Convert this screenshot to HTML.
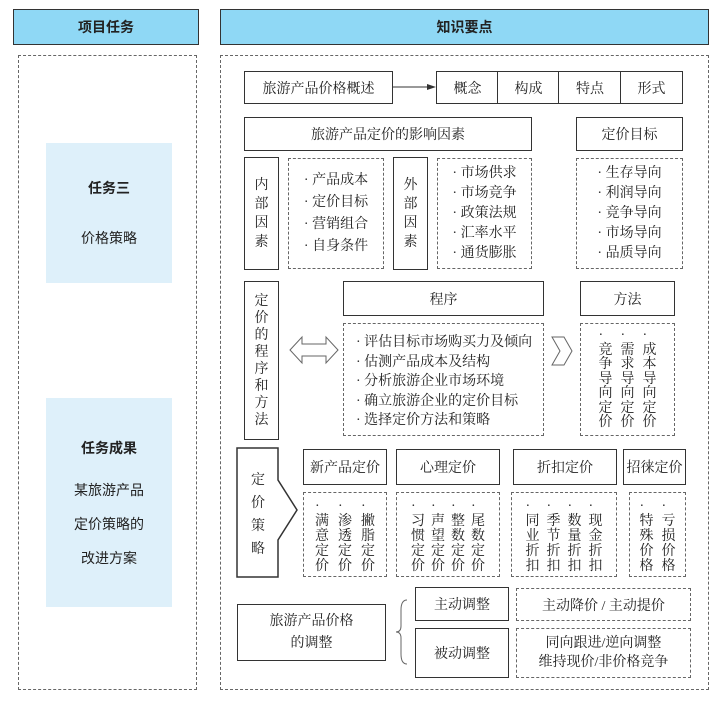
<!DOCTYPE html>
<html><head><meta charset="utf-8"><style>
body{margin:0;width:722px;height:707px;background:#fff;position:relative;font-family:"Liberation Serif","Noto Serif CJK SC","Noto Sans CJK SC",serif;color:#222;font-size:14px;overflow:hidden}
.a{position:absolute;box-sizing:border-box}
.s{border:1.5px solid #333;display:flex;align-items:center;justify-content:center;text-align:center;background:#fff}
.d{border:1px dashed #666}
.c{display:flex;align-items:center;justify-content:center;text-align:center}
.v{line-height:19px}
.l{line-height:22px}
.h{background:#8fd8f5;border:1.5px solid #333;display:flex;align-items:center;justify-content:center;font-family:"Noto Sans CJK SC",sans-serif;font-weight:bold;font-size:14px}
.cols{display:flex;justify-content:center;gap:9px;line-height:17px}
</style></head><body>
<div class="a h" style="left:13px;top:9px;width:186px;height:36px">项目任务</div>
<div class="a h" style="left:220px;top:9px;width:489px;height:36px">知识要点</div>
<div class="a d" style="left:18px;top:55px;width:179px;height:635px"></div>
<div class="a d" style="left:220px;top:55px;width:489px;height:635px"></div>
<div class="a c" style="left:46px;top:143px;width:126px;height:140px;background:#def0fa;flex-direction:column;line-height:50px;font-family:'Noto Sans CJK SC',sans-serif"><b>任务三</b><span>价格策略</span></div>
<div class="a c" style="left:46px;top:398px;width:126px;height:209px;background:#def0fa;flex-direction:column;line-height:34px;font-family:'Noto Sans CJK SC',sans-serif"><b style="margin-bottom:8px">任务成果</b><span>某旅游产品</span><span>定价策略的</span><span>改进方案</span></div>

<div class="a s" style="left:244px;top:71px;width:149px;height:33px">旅游产品价格概述</div>
<svg class="a" style="left:393px;top:80px" width="44" height="14"><line x1="0" y1="7" x2="36" y2="7" stroke="#333"/><polygon points="43,7 34,4 34,10" fill="#333"/></svg>
<div class="a s" style="left:436px;top:71px;width:63px;height:33px">概念</div>
<div class="a s" style="left:497px;top:71px;width:63px;height:33px">构成</div>
<div class="a s" style="left:558px;top:71px;width:64px;height:33px">特点</div>
<div class="a s" style="left:620px;top:71px;width:63px;height:33px">形式</div>

<div class="a s" style="left:244px;top:117px;width:288px;height:34px">旅游产品定价的影响因素</div>
<div class="a s" style="left:576px;top:117px;width:107px;height:34px">定价目标</div>
<div class="a s v" style="left:244px;top:157px;width:35px;height:113px">内<br>部<br>因<br>素</div>
<div class="a d c l" style="left:288px;top:158px;width:96px;height:111px">· 产品成本<br>· 定价目标<br>· 营销组合<br>· 自身条件</div>
<div class="a s v" style="left:393px;top:157px;width:35px;height:113px">外<br>部<br>因<br>素</div>
<div class="a d c" style="left:437px;top:158px;width:95px;height:111px;line-height:20px">· 市场供求<br>· 市场竞争<br>· 政策法规<br>· 汇率水平<br>· 通货膨胀</div>
<div class="a d c" style="left:576px;top:158px;width:107px;height:111px;line-height:20px">· 生存导向<br>· 利润导向<br>· 竞争导向<br>· 市场导向<br>· 品质导向</div>

<div class="a s" style="left:244px;top:281px;width:35px;height:159px;line-height:17px">定<br>价<br>的<br>程<br>序<br>和<br>方<br>法</div>
<svg class="a" style="left:288px;top:334px" width="52" height="32"><polygon points="2,16 14,3 14,10 38,10 38,3 50,16 38,29 38,22 14,22 14,29" fill="#fff" stroke="#666"/></svg>
<div class="a s" style="left:343px;top:281px;width:201px;height:35px">程序</div>
<div class="a d" style="left:343px;top:323px;width:201px;height:113px;padding:9px 0 0 12px;line-height:19.5px;text-align:left">· 评估目标市场购买力及倾向<br>· 估测产品成本及结构<br>· 分析旅游企业市场环境<br>· 确立旅游企业的定价目标<br>· 选择定价方法和策略</div>
<svg class="a" style="left:550px;top:334px" width="24" height="34"><polygon points="2,3 14,3 22,17 14,31 2,31 10,17" fill="#fff" stroke="#666"/></svg>
<div class="a s" style="left:580px;top:281px;width:95px;height:35px">方法</div>
<div class="a d" style="left:580px;top:323px;width:95px;height:113px;padding-top:5px"><div class="cols" style="line-height:14.5px;gap:8px">
<span>·<br>竞<br>争<br>导<br>向<br>定<br>价</span><span>·<br>需<br>求<br>导<br>向<br>定<br>价</span><span>·<br>成<br>本<br>导<br>向<br>定<br>价</span></div></div>

<svg class="a" style="left:236px;top:447px" width="66" height="132"><polygon points="1,1 42,1 42,33 61,63 42,93 42,130 1,130" fill="#fff" stroke="#333" stroke-width="1.5"/></svg>
<div class="a c" style="left:238px;top:470px;width:40px;height:90px;line-height:23px">定<br>价<br>策<br>略</div>
<div class="a s" style="left:303px;top:449px;width:84px;height:36px">新产品定价</div>
<div class="a s" style="left:396px;top:449px;width:104px;height:36px">心理定价</div>
<div class="a s" style="left:513px;top:449px;width:104px;height:36px">折扣定价</div>
<div class="a s" style="left:623px;top:449px;width:63px;height:36px">招徕定价</div>
<div class="a d" style="left:303px;top:492px;width:84px;height:85px;padding-top:6px"><div class="cols" style="line-height:15px"><span>·<br>满<br>意<br>定<br>价</span><span>·<br>渗<br>透<br>定<br>价</span><span>·<br>撇<br>脂<br>定<br>价</span></div></div>
<div class="a d" style="left:396px;top:492px;width:104px;height:85px;padding-top:6px"><div class="cols" style="line-height:15px;gap:6px"><span>·<br>习<br>惯<br>定<br>价</span><span>·<br>声<br>望<br>定<br>价</span><span>·<br>整<br>数<br>定<br>价</span><span>·<br>尾<br>数<br>定<br>价</span></div></div>
<div class="a d" style="left:511px;top:492px;width:106px;height:85px;padding-top:6px"><div class="cols" style="line-height:15px;gap:7px"><span>·<br>同<br>业<br>折<br>扣</span><span>·<br>季<br>节<br>折<br>扣</span><span>·<br>数<br>量<br>折<br>扣</span><span>·<br>现<br>金<br>折<br>扣</span></div></div>
<div class="a d" style="left:629px;top:492px;width:57px;height:85px;padding-top:6px"><div class="cols" style="line-height:15px;gap:8px"><span>·<br>特<br>殊<br>价<br>格</span><span>·<br>亏<br>损<br>价<br>格</span></div></div>

<div class="a s" style="left:237px;top:604px;width:149px;height:57px;line-height:22px">旅游产品价格<br>的调整</div>
<svg class="a" style="left:394px;top:598px" width="16" height="68"><path d="M13,2 Q7,2 7,12 L7,28 Q7,34 2,34 Q7,34 7,40 L7,56 Q7,66 13,66" fill="none" stroke="#666"/></svg>
<div class="a s" style="left:415px;top:587px;width:94px;height:34px">主动调整</div>
<div class="a s" style="left:415px;top:628px;width:94px;height:50px">被动调整</div>
<div class="a d c" style="left:516px;top:588px;width:175px;height:33px">主动降价 / 主动提价</div>
<div class="a d c" style="left:516px;top:628px;width:175px;height:50px;line-height:19px">同向跟进/逆向调整<br>维持现价/非价格竞争</div>
</body></html>
